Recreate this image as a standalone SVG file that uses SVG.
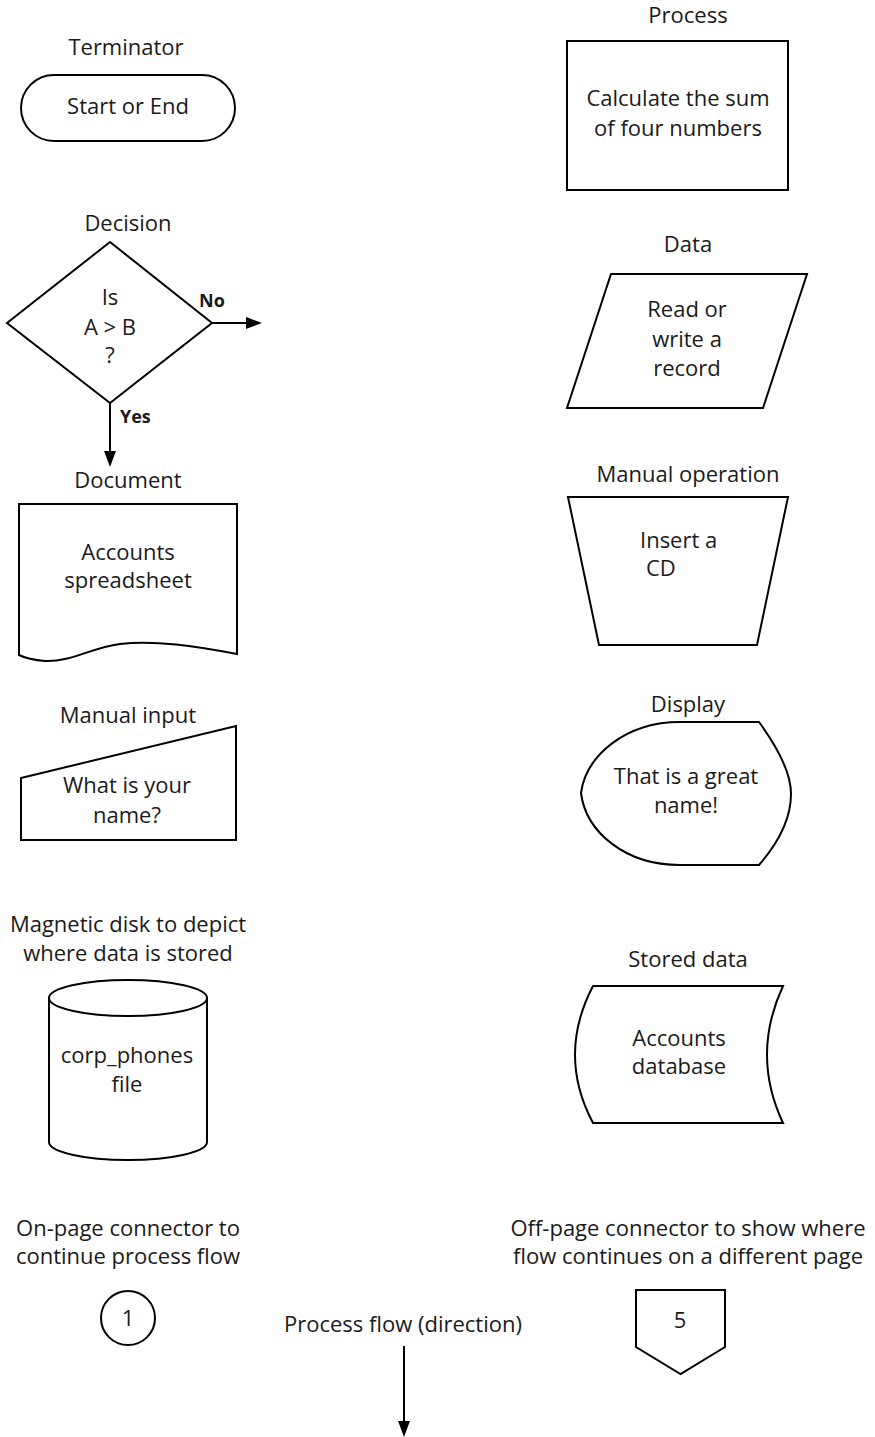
<svg xmlns="http://www.w3.org/2000/svg" width="875" height="1437" viewBox="0 0 875 1437">
<style>
text{font-family:"Open Sans","Noto Sans","Liberation Sans",sans-serif;font-size:22px;fill:#1a1a1a;text-anchor:middle}
.b{font-weight:bold;font-size:18px;text-anchor:start}
.s{text-anchor:start}
.shape{fill:#fff;stroke:#000;stroke-width:2;stroke-linejoin:miter}
.conn{stroke:#000;stroke-width:2;fill:none}
</style>
<defs>
<marker id="arr" markerUnits="userSpaceOnUse" markerWidth="16" markerHeight="12" refX="13" refY="6" orient="auto">
<path d="M0,0 L16,6 L0,12 Z" fill="#000"/>
</marker>
</defs>
<rect width="875" height="1437" fill="#fff"/>

<g id="terminator">
<text x="126" y="55">Terminator</text>
<rect class="shape" x="21" y="75" width="214" height="66" rx="33"/>
<text x="128" y="114">Start or End</text>
</g>

<g id="process">
<text x="688" y="23">Process</text>
<rect class="shape" x="567" y="41" width="221" height="149"/>
<text x="678" y="106">Calculate the sum</text>
<text x="678" y="136">of four numbers</text>
</g>

<g id="decision">
<text x="128" y="231">Decision</text>
<polygon class="shape" points="110,242 212,323 110,403 7,323"/>
<text x="110" y="305">Is</text>
<text x="110" y="335">A &gt; B</text>
<text x="110" y="363">?</text>
<text class="b" x="199" y="307">No</text>
<text class="b" x="120" y="423">Yes</text>
</g>

<g id="data">
<text x="688" y="252">Data</text>
<polygon class="shape" points="611,274 807,274 763,408 567,408"/>
<text x="687" y="317">Read or</text>
<text x="687" y="347">write a</text>
<text x="687" y="376">record</text>
</g>

<g id="document">
<text x="128" y="488">Document</text>
<path class="shape" d="M19,504 H237 V654 C195,646 155,640 120,644 C90,648 72,662 45,661 C33,660 25,658 19,655 Z"/>
<text x="128" y="560">Accounts</text>
<text x="128" y="588">spreadsheet</text>
</g>

<g id="manual-operation">
<text x="688" y="482">Manual operation</text>
<polygon class="shape" points="568,497 788,497 757,645 599,645"/>
<text class="s" x="640" y="548">Insert a</text>
<text class="s" x="646" y="576">CD</text>
</g>

<g id="manual-input">
<text x="128" y="723">Manual input</text>
<polygon class="shape" points="21,778 236,726 236,840 21,840"/>
<text x="127" y="793">What is your</text>
<text x="127" y="823">name?</text>
</g>

<g id="display">
<text x="688" y="712">Display</text>
<path class="shape" d="M680,722 L759,722 C781,752 791,776 791,794 C791,818 779,842 759,865 L680,865 C625,865 586,832 581,793 C586,756 625,722 680,722 Z"/>
<text x="686" y="784">That is a great</text>
<text x="686" y="813">name!</text>
</g>

<g id="magnetic-disk">
<text x="128" y="932">Magnetic disk to depict</text>
<text x="128" y="961">where data is stored</text>
<path class="shape" d="M49,998 V1142 A79,18 0 0 0 207,1142 V998 Z"/>
<ellipse class="shape" cx="128" cy="998" rx="79" ry="18"/>
<text x="127" y="1063">corp_phones</text>
<text x="127" y="1092">file</text>
</g>

<g id="stored-data">
<text x="688" y="967">Stored data</text>
<path class="shape" d="M593,986 H783 Q751,1055 783,1123 H593 Q557,1055 593,986 Z"/>
<text x="679" y="1046">Accounts</text>
<text x="679" y="1074">database</text>
</g>

<g id="on-page-connector">
<text x="128" y="1236">On-page connector to</text>
<text x="128" y="1264">continue process flow</text>
<circle class="shape" cx="128" cy="1318" r="27"/>
<text x="128" y="1326">1</text>
</g>

<g id="off-page-connector">
<text x="688" y="1236">Off-page connector to show where</text>
<text x="688" y="1264">flow continues on a different page</text>
<polygon class="shape" points="636,1290 725,1290 725,1347 680.5,1374 636,1347"/>
<text x="680" y="1328">5</text>
</g>

<g id="process-flow">
<text x="403" y="1332">Process flow (direction)</text>
</g>

<g id="connectors">
<line class="conn" x1="212" y1="323" x2="259" y2="323" marker-end="url(#arr)"/>
<line class="conn" x1="110" y1="403" x2="110" y2="464" marker-end="url(#arr)"/>
<line class="conn" x1="404" y1="1346" x2="404" y2="1434" marker-end="url(#arr)"/>
</g>
</svg>
